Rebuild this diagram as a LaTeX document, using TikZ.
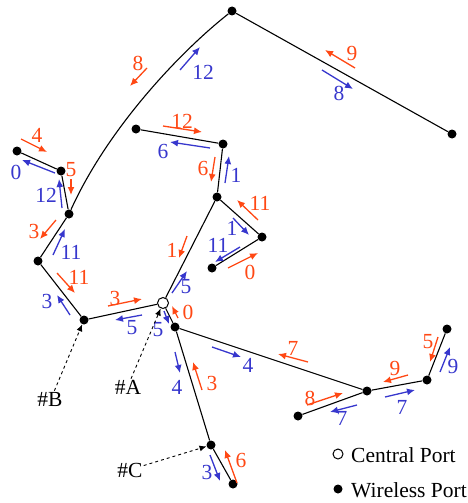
\documentclass[tikz,border=0pt]{standalone}
\usepackage{fontspec}
\setmainfont{Liberation Serif}
\usetikzlibrary{arrows.meta}
\definecolor{myred}{RGB}{255,72,20}
\definecolor{myblue}{RGB}{55,55,205}
\tikzset{
  port/.style={circle, fill=black, inner sep=0pt, minimum size=9pt},
  cport/.style={circle, draw=black, fill=white, inner sep=0pt, minimum size=11pt, line width=1pt},
  link/.style={line width=1.1pt},
  redarr/.style={draw=myred, line width=1.3pt, -{Latex[length=8pt,width=7pt]}},
  bluearr/.style={draw=myblue, line width=1.3pt, -{Latex[length=8pt,width=7pt]}},
  redlab/.style={text=myred, inner sep=0pt},
  bluelab/.style={text=myblue, inner sep=0pt},
  tag/.style={inner sep=1pt, text=black},
  pointer/.style={dashed, line width=0.9pt, -{Latex[length=7pt,width=6pt]}},
  legtext/.style={anchor=west, inner sep=0pt}
}
\newcommand\annot[6]{\draw[#1arr] #2 -- #3; \node[#1lab] (#6) at #4 {#5};}
\begin{document}
\begin{tikzpicture}[x=1pt,y=-1pt,font=\fontsize{21.5}{25}\selectfont]
\useasboundingbox (0,0) rectangle (467,503);
% ports
\node[port] (T) at (232,11) {};
\node[port] (R) at (452,134) {};
\node[port] (L1) at (17,151) {};
\node[port] (L2) at (61,171) {};
\node[port] (L3) at (69,214) {};
\node[port] (L4) at (38,261) {};
\node[port] (L5) at (84,320) {};
\node[cport] (C) at (163,303) {};
\node[port] (D) at (175,327) {};
\node[port] (P1) at (136,129) {};
\node[port] (P2) at (223,144) {};
\node[port] (P3) at (217,197) {};
\node[port] (P4) at (262,237) {};
\node[port] (P5) at (212,268) {};
\node[port] (E) at (367,391) {};
\node[port] (F) at (427,380) {};
\node[port] (G) at (447,329) {};
\node[port] (H) at (298,416) {};
\node[port] (J) at (211,445) {};
\node[port] (K) at (233,484) {};
% links
\draw[link] (T) -- (R);
\draw[link] (T) .. controls (180,52) and (108,128) .. (L3);
\draw[link] (L1) -- (L2);
\draw[link] (L2) -- (L3);
\draw[link] (L3) -- (L4);
\draw[link] (L4) -- (L5);
\draw[link] (L5) -- (C);
\draw[link] (C) -- (P3);
\draw[link] (P3) -- (P2);
\draw[link] (P2) -- (P1);
\draw[link] (P3) -- (P4);
\draw[link] (P4) -- (P5);
\draw[link] (C) -- (D);
\draw[link] (D) -- (E);
\draw[link] (E) -- (H);
\draw[link] (E) -- (F);
\draw[link] (F) -- (G);
\draw[link] (D) -- (J);
\draw[link] (J) -- (K);
% annotations
\annot{red}{(21,139)}{(47,152)}{(37,135)}{4}{a1}
\annot{blue}{(55,173)}{(22,160)}{(16,172)}{0}{a2}
\annot{red}{(71,179)}{(71,195)}{(71,170)}{5}{a3}
\annot{blue}{(62,208)}{(59,179)}{(46,195)}{12}{a4}
\annot{red}{(56,220)}{(40,239)}{(34,231)}{3}{a5}
\annot{blue}{(53,255)}{(65,229)}{(71,252)}{11}{a6}
\annot{red}{(57,273)}{(75,293)}{(79,277)}{11}{a7}
\annot{blue}{(70,315)}{(57,295)}{(47,301)}{3}{a8}
\annot{red}{(108,306)}{(142,299)}{(115,298)}{3}{a9}
\annot{blue}{(142,315)}{(115,320)}{(132,328)}{5}{a10}
\annot{red}{(187,236)}{(179,258)}{(172,250)}{1}{a11}
\annot{blue}{(172,293)}{(187,271)}{(186,287)}{5}{a12}
\annot{red}{(178,318)}{(172,306)}{(188,312)}{0}{a13}
\annot{blue}{(164,311)}{(169,324)}{(158,330)}{5}{a14}
\annot{blue}{(212,347)}{(241,357)}{(248,365)}{4}{a15}
\annot{red}{(308,362)}{(278,354)}{(293,348)}{7}{a16}
\annot{blue}{(175,352)}{(180,373)}{(177,387)}{4}{a17}
\annot{red}{(202,390)}{(193,362)}{(212,383)}{3}{a18}
\annot{blue}{(210,455)}{(220,481)}{(207,472)}{3}{a19}
\annot{red}{(237,483)}{(225,450)}{(241,460)}{6}{a20}
\annot{red}{(307,405)}{(343,393)}{(310,398)}{8}{a21}
\annot{blue}{(357,405)}{(330,412)}{(342,418)}{7}{a22}
\annot{red}{(408,375)}{(383,382)}{(395,368)}{9}{a23}
\annot{blue}{(385,397)}{(415,390)}{(402,407)}{7}{a24}
\annot{red}{(438,337)}{(430,362)}{(428,342)}{5}{a25}
\annot{blue}{(440,372)}{(450,347)}{(453,366)}{9}{a26}
\annot{red}{(163,126)}{(202,132)}{(182,121)}{12}{a27}
\annot{blue}{(210,148)}{(170,142)}{(163,151)}{6}{a28}
\annot{red}{(215,157)}{(211,182)}{(203,168)}{6}{a29}
\annot{blue}{(225,183)}{(229,156)}{(236,175)}{1}{a30}
\annot{red}{(258,220)}{(237,200)}{(260,203)}{11}{a31}
\annot{blue}{(233,218)}{(249,235)}{(232,228)}{1}{a32}
\annot{blue}{(240,247)}{(215,262)}{(218,245)}{11}{a33}
\annot{red}{(228,268)}{(258,253)}{(250,272)}{0}{a34}
\annot{red}{(147,68)}{(130,86)}{(138,63)}{8}{a35}
\annot{blue}{(180,70)}{(200,47)}{(203,72)}{12}{a36}
\annot{red}{(355,68)}{(325,50)}{(352,53)}{9}{a37}
\annot{blue}{(322,70)}{(353,89)}{(339,93)}{8}{a38}
% pointers
\node[tag] (tB) at (50,399) {\#B};
\node[tag] (tA) at (128,387) {\#A};
\node[tag] (tC) at (130,470) {\#C};
\draw[pointer] (tB.62) -- (L5);
\draw[pointer] (tA.70) -- (C);
\draw[pointer] (tC.18) -- (J);
% legend
\node[cport, minimum size=10pt] (lc) at (338,454) {};
\node[port] (lw) at (338,489) {};
\node[legtext] (lct) at (351,455) {Central Port};
\node[legtext] (lwt) at (351,490) {Wireless Port};
\end{tikzpicture}
\end{document}
